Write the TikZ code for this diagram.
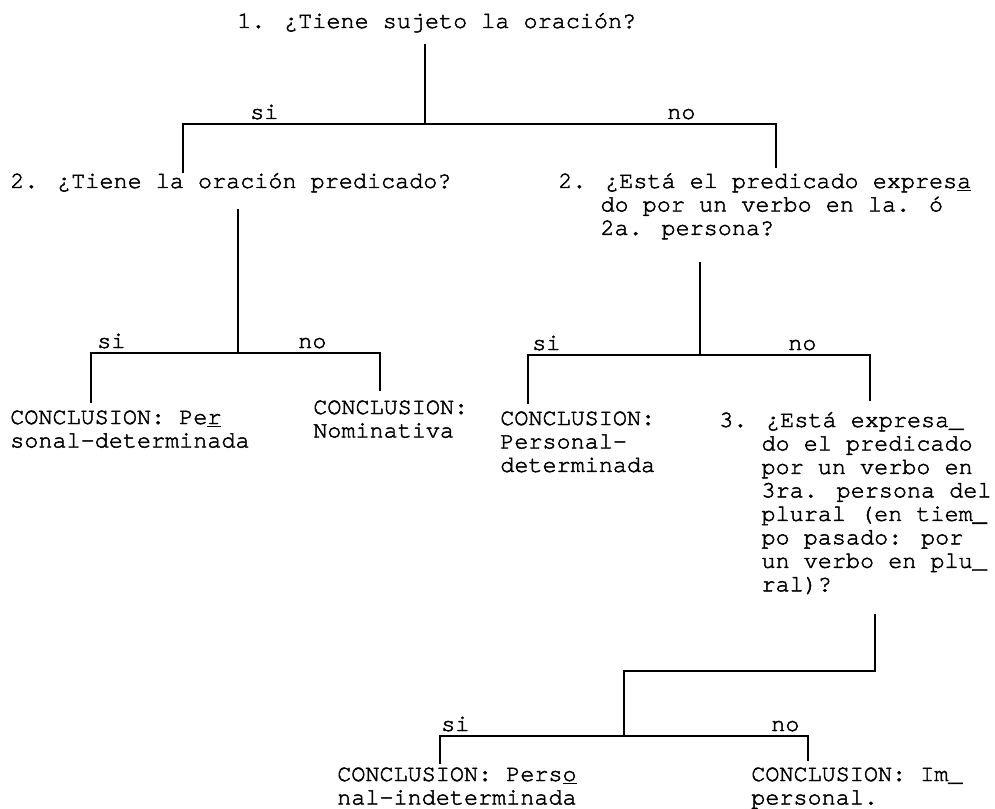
\documentclass[tikz,border=0pt]{standalone}
\usepackage{fontspec}
\newfontfamily\twface{texgyrecursor-regular.otf}[FakeBold=2]
\newcommand\twfont{\twface\fontsize{17.6pt}{17.6pt}\selectfont}
\newcommand\nl{\egroup\hbox\bgroup}
\newcommand\ml[1]{\vtop{\lineskiplimit=-\maxdimen\lineskip=0pt\hbox\bgroup#1\egroup}}
\newcommand\ind{\hbox to 1.8em{}}
\begin{document}
\begin{tikzpicture}[x=0.75pt,y=-0.75pt,
  txt/.style={anchor=base west,inner sep=0pt,font=\twfont},
  tree/.style={line width=1pt,line cap=rect}]
\useasboundingbox[fill=white] (0,0) rectangle (995,809);

% questions
\node[txt] (q1) at (237,28) {1. ¿Tiene sujeto la oración?};
\node[txt] (q2a) at (10,188) {2. ¿Tiene la oración predicado?};
\node[txt] (q2b) at (558,188) {\ml{2. ¿Está el predicado expres\underline{a}\nl\ind do por un verbo en la. ó\nl\ind 2a. persona?}};
\node[txt] (q3) at (719,427) {\ml{3. ¿Está expresa\_\nl\ind do el predicado\nl\ind por un verbo en\nl\ind 3ra. persona del\nl\ind plural (en tiem\_\nl\ind po pasado: por\nl\ind un verbo en plu\_\nl\ind ral)?}};

% conclusions
\node[txt] (c1) at (10,424) {\ml{CONCLUSION: Pe\underline{r}\nl sonal-determinada}};
\node[txt] (c2) at (313,414) {\ml{CONCLUSION:\nl Nominativa}};
\node[txt] (c3) at (500,425) {\ml{CONCLUSION:\nl Personal-\nl determinada}};
\node[txt] (c4) at (337,781) {\ml{CONCLUSION: Pers\underline{o}\nl nal-indeterminada}};
\node[txt] (c5) at (751,781) {\ml{CONCLUSION: Im\_\nl personal.}};

% branch labels
\node[txt] (s1) at (250,119) {si};
\node[txt] (n1) at (667,119) {no};
\node[txt] (s2) at (97,348) {si};
\node[txt] (n2) at (298,348) {no};
\node[txt] (s3) at (532,350) {si};
\node[txt] (n3) at (788,350) {no};
\node[txt] (s4) at (441,731) {si};
\node[txt] (n4) at (771,731) {no};

% level 1
\coordinate (a0) at (425,45);
\coordinate (a1) at (425,124);
\coordinate (aL) at (183,124);
\coordinate (aR) at (776,124);
\coordinate (aLd) at (183,172);
\coordinate (aRd) at (776,167);
\draw[tree] (a0) -- (a1);
\draw[tree] (aLd) -- (aL) -- (aR) -- (aRd);

% level 2 left
\coordinate (b0) at (238,210);
\coordinate (b1) at (238,353);
\coordinate (bL) at (91,353);
\coordinate (bR) at (380,353);
\coordinate (bLd) at (91,402);
\coordinate (bRd) at (380,390);
\draw[tree] (b0) -- (b1);
\draw[tree] (bLd) -- (bL) -- (bR) -- (bRd);

% level 2 right
\coordinate (d0) at (700,263);
\coordinate (d1) at (700,355);
\coordinate (dL) at (528,355);
\coordinate (dR) at (870,355);
\coordinate (dLd) at (528,403);
\coordinate (dRd) at (870,400);
\draw[tree] (d0) -- (d1);
\draw[tree] (dLd) -- (dL) -- (dR) -- (dRd);

% level 3
\coordinate (e0) at (875,615);
\coordinate (e1) at (875,671);
\coordinate (e2) at (624,671);
\coordinate (e3) at (624,736);
\coordinate (eL) at (440,736);
\coordinate (eR) at (808,736);
\coordinate (eLd) at (440,763);
\coordinate (eRd) at (808,760);
\draw[tree] (e0) -- (e1) -- (e2) -- (e3);
\draw[tree] (eLd) -- (eL) -- (eR) -- (eRd);
\end{tikzpicture}
\end{document}
